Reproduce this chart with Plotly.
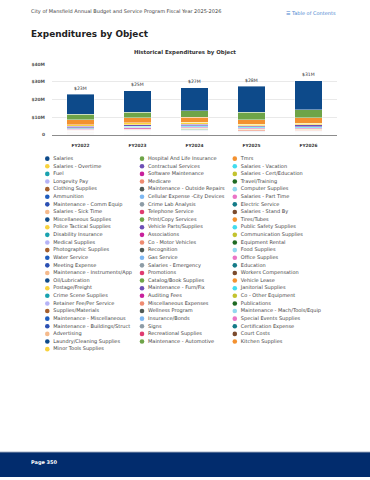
import plotly.graph_objects as go

# ---------------- data ----------------
years = ["FY2022", "FY2023", "FY2024", "FY2025", "FY2026"]

categories = [
    "Salaries", "Hospital And Life Insurance", "Tmrs",
    "Salaries - Overtime", "Contractual Services", "Salaries - Vacation",
    "Fuel", "Software Maintenance", "Salaries - Cert/Education",
    "Longevity Pay", "Medicare", "Travel/Training",
    "Clothing Supplies", "Maintenance - Outside Repairs", "Computer Supplies",
    "Ammunition", "Cellular Expense -City Devices", "Salaries - Part Time",
    "Maintenance - Comm Equip", "Crime Lab Analysis", "Electric Service",
    "Salaries - Sick Time", "Telephone Service", "Salaries - Stand By",
    "Miscellaneous Supplies", "Print/Copy Services", "Tires/Tubes",
    "Police Tactical Supplies", "Vehicle Parts/Supplies", "Public Safety Supplies",
    "Disability Insurance", "Associations", "Communication Supplies",
    "Medical Supplies", "Co - Motor Vehicles", "Equipment Rental",
    "Photographic Supplies", "Recognition", "Food Supplies",
    "Water Service", "Gas Service", "Office Supplies",
    "Meeting Expense", "Salaries - Emergency", "Education",
    "Maintenance - Instruments/App", "Promotions", "Workers Compensation",
    "Oil/Lubrication", "Catalog/Book Supplies", "Vehicle Lease",
    "Postage/Freight", "Maintenance - Furn/Fix", "Janitorial Supplies",
    "Crime Scene Supplies", "Auditing Fees", "Co - Other Equipment",
    "Retainer Fee/Per Service", "Miscellaneous Expenses", "Publications",
    "Supplies/Materials", "Wellness Program", "Maintenance - Mach/Tools/Equip",
    "Maintenance - Miscellaneous", "Insurance/Bonds", "Special Events Supplies",
    "Maintenance - Buildings/Struct", "Signs", "Certification Expense",
    "Advertising", "Recreational Supplies", "Court Costs",
    "Laundry/Cleaning Supplies", "Maintenance - Automotive", "Kitchen Supplies",
    "Minor Tools Supplies",
]

# values in $M, same order as categories
fy2022 = [11.5, 3.2, 2.8, 1.0, 0.6, 0.5, 0.35, 0.3, 0.25, 0.12, 0.25, 0.08,
          0.1, 0.12, 0.08, 0.08, 0.08, 0.1, 0.07, 0.05, 0.06, 0.15, 0.04, 0.05,
          0.05, 0.03, 0.04, 0.04, 0.05, 0.03, 0.03, 0.02, 0.02, 0.02, 0.3, 0.01,
          0.01, 0.01, 0.01, 0.01, 0.01, 0.02, 0.01, 0.05, 0.02, 0.01, 0.01, 0.05,
          0.005, 0.01, 0.05, 0.005, 0.01, 0.005, 0.01, 0.01, 0.1, 0.02, 0.01, 0.005,
          0.01, 0.005, 0.005, 0.01, 0.005, 0.005, 0.01, 0.002, 0.005, 0.002, 0.002, 0.002,
          0.005, 0.01, 0.002, 0.005]
fy2023 = [12.2, 3.2, 2.8, 1.2, 0.7, 0.55, 0.45, 0.35, 0.27, 0.12, 0.27, 0.12,
          0.12, 0.12, 0.15, 0.1, 0.09, 0.1, 0.08, 0.06, 0.06, 0.16, 0.04, 0.05,
          0.05, 0.03, 0.05, 0.05, 0.05, 0.04, 0.03, 0.02, 0.02, 0.02, 0.5, 0.01,
          0.01, 0.01, 0.01, 0.01, 0.01, 0.02, 0.01, 0.06, 0.02, 0.01, 0.01, 0.05,
          0.005, 0.01, 0.08, 0.005, 0.01, 0.005, 0.01, 0.01, 0.2, 0.02, 0.01, 0.005,
          0.01, 0.005, 0.005, 0.01, 0.005, 0.005, 0.01, 0.002, 0.005, 0.002, 0.002, 0.002,
          0.005, 0.01, 0.002, 0.005]
fy2024 = [13.0, 3.8, 2.8, 1.2, 0.8, 0.6, 0.45, 0.4, 0.3, 0.13, 0.3, 0.15,
          0.12, 0.1, 0.2, 0.1, 0.09, 0.1, 0.08, 0.06, 0.07, 0.17, 0.04, 0.05,
          0.06, 0.03, 0.05, 0.05, 0.05, 0.04, 0.03, 0.02, 0.03, 0.02, 0.5, 0.01,
          0.01, 0.01, 0.01, 0.01, 0.01, 0.02, 0.01, 0.06, 0.02, 0.01, 0.01, 0.05,
          0.005, 0.01, 0.1, 0.005, 0.01, 0.005, 0.01, 0.01, 0.2, 0.02, 0.01, 0.005,
          0.01, 0.005, 0.005, 0.01, 0.005, 0.005, 0.01, 0.002, 0.005, 0.002, 0.002, 0.002,
          0.005, 0.01, 0.002, 0.005]
fy2025 = [14.8, 4.3, 2.6, 0.8, 0.7, 0.5, 0.4, 0.45, 0.32, 0.13, 0.32, 0.15,
          0.12, 0.1, 0.1, 0.1, 0.1, 0.1, 0.08, 0.06, 0.07, 0.1, 0.04, 0.05,
          0.05, 0.03, 0.05, 0.05, 0.05, 0.04, 0.03, 0.02, 0.03, 0.02, 0.2, 0.01,
          0.01, 0.01, 0.01, 0.01, 0.01, 0.02, 0.01, 0.05, 0.02, 0.01, 0.01, 0.06,
          0.005, 0.01, 0.08, 0.005, 0.01, 0.005, 0.01, 0.01, 0.1, 0.02, 0.01, 0.005,
          0.01, 0.005, 0.005, 0.01, 0.005, 0.005, 0.01, 0.002, 0.005, 0.002, 0.002, 0.002,
          0.005, 0.01, 0.002, 0.005]
fy2026 = [16.5, 4.5, 3.0, 1.1, 0.9, 0.6, 0.4, 0.5, 0.35, 0.14, 0.35, 0.15,
          0.13, 0.1, 0.1, 0.1, 0.1, 0.1, 0.08, 0.07, 0.07, 0.1, 0.04, 0.05,
          0.05, 0.03, 0.05, 0.05, 0.05, 0.04, 0.03, 0.02, 0.03, 0.02, 0.1, 0.01,
          0.01, 0.01, 0.01, 0.01, 0.01, 0.02, 0.01, 0.05, 0.02, 0.01, 0.01, 0.06,
          0.005, 0.01, 0.08, 0.005, 0.01, 0.005, 0.01, 0.01, 0.1, 0.02, 0.01, 0.005,
          0.01, 0.005, 0.005, 0.01, 0.005, 0.005, 0.01, 0.002, 0.005, 0.002, 0.002, 0.002,
          0.005, 0.01, 0.002, 0.005]

y_tick_values = [0, 10, 20, 30, 40]
y_tick_labels = ["0", "$10M", "$20M", "$30M", "$40M"]

# ---------------- styling ----------------
palette = ["#0d4a8a", "#6ea448", "#f39130", "#f8d23e", "#6d4fb6", "#42dcef",
           "#19a2af", "#c8209b", "#c3c32f", "#b5b3f7", "#ef8b70", "#1e6a23",
           "#a65f2c", "#505b56", "#92d8ee", "#1d5cbe", "#7db8f2", "#ea74c6",
           "#2b50b3", "#8d9ca6", "#147b88", "#f5ba8c", "#e03b70", "#7b4b2d"]

W, H = 370, 480
PLOT_L, PLOT_R, PLOT_T, PLOT_B = 52, 337, 63, 134
FONT = "DejaVu Sans"

LEG_COL_X = [47.3, 142.0, 234.8]
LEG_TEXT_DX = 6.0
LEG_TOP = 158.3
LEG_ROW_H = 7.7

series = [fy2022, fy2023, fy2024, fy2025, fy2026]

fig = go.Figure()

# stacked bars: first category on top -> add in reverse
n = len(categories)
for i in reversed(range(n)):
    fig.add_trace(go.Bar(
        x=years, y=[s[i] for s in series], name=categories[i],
        marker=dict(color=palette[i % len(palette)],
                    line=dict(color="white", width=0.4)),
        showlegend=False, hoverinfo="name+y",
    ))

# custom legend (3 columns, row-major)
leg_x = [LEG_COL_X[i % 3] for i in range(n)]
leg_y = [LEG_TOP + (i // 3) * LEG_ROW_H for i in range(n)]
fig.add_trace(go.Scatter(
    x=leg_x, y=leg_y, xaxis="x2", yaxis="y2", mode="markers",
    marker=dict(size=4.6, color=[palette[i % len(palette)] for i in range(n)]),
    showlegend=False, hoverinfo="skip",
))
fig.add_trace(go.Scatter(
    x=[x + LEG_TEXT_DX for x in leg_x], y=leg_y, xaxis="x2", yaxis="y2",
    mode="text", text=categories, textposition="middle right",
    textfont=dict(family=FONT, size=5, color="#444444"),
    showlegend=False, hoverinfo="skip", cliponaxis=False,
))

def py(p):
    return 1 - p / H

annotations = [
    dict(text="City of Mansfield Annual Budget and Service Program Fiscal Year 2025-2026",
         x=29 / W, y=py(10), xanchor="left", yanchor="middle",
         font=dict(family=FONT, size=5, color="#444444")),
    dict(text="☰ Table of Contents", x=284 / W, y=py(11), xanchor="left", yanchor="middle",
         font=dict(family=FONT, size=5, color="#4a86d0")),
    dict(text="<b>Expenditures by Object</b>", x=29 / W, y=py(32), xanchor="left", yanchor="middle",
         font=dict(family=FONT, size=8.9, color="#222222")),
    dict(text="<b>Historical Expenditures by Object</b>", x=184.5 / W, y=py(51),
         xanchor="center", yanchor="middle",
         font=dict(family=FONT, size=5.4, color="#333333")),
    dict(text="<b>Page 350</b>", x=29 / W, y=py(465), xanchor="left", yanchor="middle",
         font=dict(family=FONT, size=5, color="white")),
]
for a in annotations:
    a.update(xref="paper", yref="paper", showarrow=False)

# total labels above each stack
totals = [sum(s) for s in series]
for yr, t in zip(years, totals):
    annotations.append(dict(
        x=yr, y=t, xref="x", yref="y", text=f"${t:.0f}M", showarrow=False,
        xanchor="center", yanchor="bottom", yshift=1.5,
        font=dict(family=FONT, size=4.6, color="#333333"),
    ))

shapes = [
    dict(type="rect", xref="paper", yref="paper", x0=0, x1=1, y0=0, y1=py(455),
         fillcolor="#022c6d", line=dict(width=0), layer="above"),
    dict(type="line", xref="paper", yref="paper", x0=0, x1=1, y0=py(455), y1=py(455),
         line=dict(color="#4d6790", width=1), layer="above"),
]

fig.update_layout(
    width=W, height=H, autosize=False,
    margin=dict(l=0, r=0, t=0, b=0, pad=0),
    paper_bgcolor="white", plot_bgcolor="rgba(0,0,0,0)",
    barmode="stack", bargap=0.526,
    font=dict(family=FONT, color="#444444"),
    annotations=annotations, shapes=shapes,
    xaxis=dict(domain=[PLOT_L / W, PLOT_R / W], showline=True, linecolor="#8c8c8c",
               linewidth=1, ticks="", showgrid=False, fixedrange=True,
               tickfont=dict(family=FONT, size=4.3, color="#333333", weight="bold"),
               ticklabelstandoff=6),
    yaxis=dict(domain=[py(PLOT_B), py(PLOT_T)], range=[0, 40], tickvals=y_tick_values,
               ticktext=y_tick_labels, showgrid=True, gridcolor="#e9e9e9", gridwidth=1,
               zeroline=False, ticks="", fixedrange=True,
               tickfont=dict(family=FONT, size=4.4, color="#555555", weight="bold"),
               ticklabelstandoff=6),
    xaxis2=dict(domain=[0, 1], range=[0, W], visible=False, fixedrange=True),
    yaxis2=dict(domain=[0, 1], range=[H, 0], visible=False, fixedrange=True, anchor="x2"),
    showlegend=False,
)

fig.write_html("out.html", config={"displayModeBar": False},
               post_script="document.body.style.margin='0';")
